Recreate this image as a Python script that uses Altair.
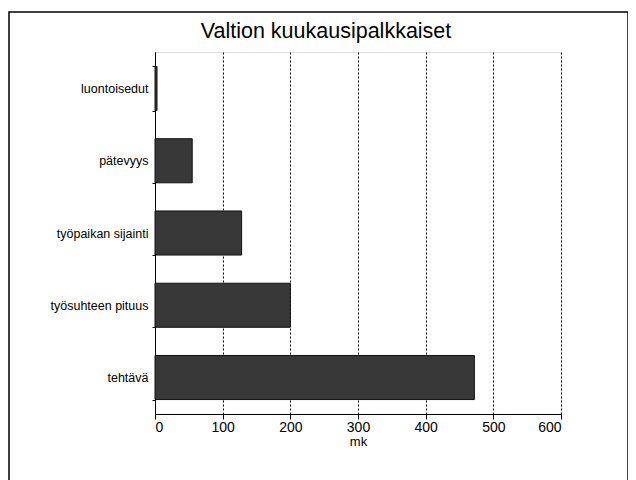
import altair as alt
import pandas as pd

title_text = "Valtion kuukausipalkkaiset"
categories = ["luontoisedut", "pätevyys", "työpaikan sijainti", "työsuhteen pituus", "tehtävä"]
values = [3, 55, 128, 200, 472]
x_ticks = [0, 100, 200, 300, 400, 500, 600]

df = pd.DataFrame({"kategoria": categories, "mk": values})

FONT = "Liberation Sans"

bars = alt.Chart(df).mark_bar(color="#383838", stroke="#111111", strokeWidth=1).encode(
    x=alt.X("mk:Q", scale=alt.Scale(domain=[0, 600], nice=False),
            axis=alt.Axis(values=x_ticks, title="mk", grid=True, gridColor="black",
                          gridDash=[2, 2], gridWidth=1, tickColor="black", tickSize=5,
                          domainColor="black", labelColor="black", labelFontSize=14,
                          labelFont=FONT, titleFont=FONT, titleFontSize=13,
                          titleFontWeight="normal", titleColor="black", titlePadding=1,
                          labelPadding=1)),
    y=alt.Y("kategoria:N", sort=categories, scale=alt.Scale(paddingInner=0.39, paddingOuter=0.2),
            axis=alt.Axis(title=None, tickBand="extent", tickColor="black", tickSize=3,
                          domainColor="black", labelColor="black", labelFontSize=12.5,
                          labelFont=FONT, labelPadding=4)),
)

one = pd.DataFrame({"t": [title_text]})
frame = alt.Chart(one).mark_rect(fill=None, stroke="black", strokeWidth=1.5, clip=False).encode(
    x=alt.value(-146), x2=alt.value(473), y=alt.value(-40), y2=alt.value(480)
)
title = alt.Chart(one).mark_text(font=FONT, fontSize=21.5, color="black", align="center",
                                 baseline="middle", clip=False).encode(
    text="t:N", x=alt.value(171), y=alt.value(-20)
)

chart = alt.layer(frame, bars, title).properties(
    width=406, height=362,
    autosize=alt.AutoSizeParams(type="none"),
    padding={"left": 147, "top": 44, "right": 67, "bottom": 66},
).configure_view(stroke="black", strokeWidth=1.2).configure(background="white")

chart.save("out.html", embed_options={"renderer": "svg", "actions": False})
